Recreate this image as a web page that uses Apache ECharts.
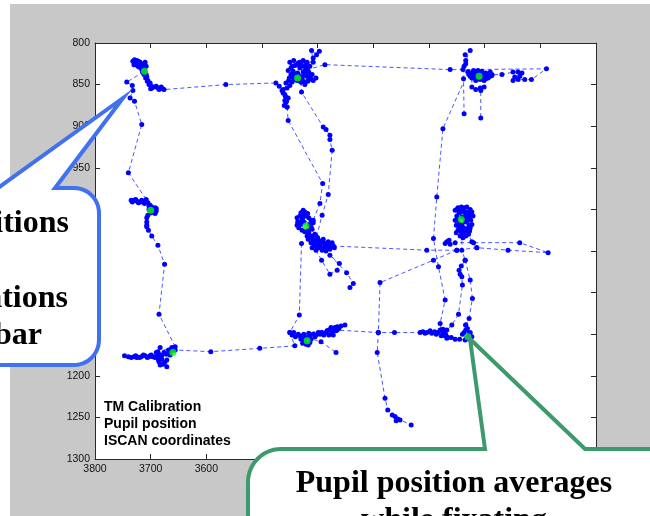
<!DOCTYPE html>
<html>
<head>
<meta charset="utf-8">
<script src="https://cdn.jsdelivr.net/npm/echarts@6/dist/echarts.min.js"></script>
<style>
  html, body { margin: 0; padding: 0; background: #fff; }
  #chart { width: 650px; height: 516px; }
</style>
</head>
<body>
<div id="chart"></div>
<script>
// Axis ranges (ISCAN pupil coordinates); both axes run reversed
const X_MIN = 2900, X_MAX = 3800, X_STEP = 100;
const Y_MIN = 800, Y_MAX = 1300, Y_STEP = 50;

// Raw pupil samples, one array pair per continuous stretch of the scan path
const leftColumnX = [3728,3725,3719,3730,3723,3717,3714,3708,3710,3721,3726,3714,
  3743,3733,3732,3737,3729,3716,3740,3708,
  3735,3730,3725,3719,3714,3708,3705,3701,3698,3692,3690,3696,3701,3705,3707,3707,3707,3707,3704,3698,3687,3675,3685,3656,
  3658,3665,3672,3680,3687,3683,3687,3689,3696,3703,3710,3717,3725,3730,3747,3725,3701,3687,3685,3683,3678,3671,3671,3665,3656,3592,3504,3441,
  3450,3443,3435,3432,3426,3423,3417,3414,3419,3414,3408,3403,3396,3392,3385,3380,3376,3371,3367,3372,3380,3365,3351,3365,3291,3262,3216,3211,3204,3195,3184,
  3180,3175,3171,3166,3178,3168,3153,3135,3132,3126,3123,3126,3134,3134];
const leftColumnY = [823,821,823,826,828,827,830,828,823,824,826,835,
  847,851,857,866,870,898,956,988,
  989,989,990,991,991,991,992,995,997,998,1002,1003,1002,1007,1010,1015,1019,1021,1025,1032,1043,1066,1126,1165,
  1169,1171,1174,1176,1174,1166,1171,1176,1177,1177,1176,1177,1178,1177,1176,1177,1176,1178,1183,1187,1186,1189,1181,1175,1169,1171,1167,1164,
  1148,1148,1150,1152,1154,1159,1163,1160,1154,1151,1150,1151,1150,1148,1148,1145,1142,1144,1146,1151,1151,1141,1139,1145,1148,1148,1148,1147,1148,1149,1148,
  1145,1148,1152,1154,1152,1155,1156,1157,1154,1152,1153,1148,1145,1139];

const bmTailX = [3419,3394,3367];
const bmTailY = [1154,1159,1172];

const topRowX = [3714,3710,3708,3707,3705,3701,3699,3698,3690,3687,3681,3676,3565,
  3475,3469,3464,3459,3453,3457,3460,3455,3459,3462,3455,3450,3446,3451,3448,3453,3446,3450,3443,3437,
  3432,3426,3435,3443,3437,3430,3423,3417,3414,3408,3403,3410,3416,3421,3425,3432,3426,3419,3414,3408,
  3411,3402,3397,3408,3423,3387,
  3162,3139,2989,
  3016,3028,3040,3049,3046,3037,3033,3040,3049,3069,3087,3090,3098,3105,3112,3117,3123,3130,3126,3119,
  3110,3103,3096,3087,3094,3101,3108,3116,3123,
  3123,3116,3108,3101,3107,3107];
const topRowY = [835,834,838,841,845,848,852,854,852,854,853,856,850,
  848,852,857,862,866,871,875,877,869,860,854,851,847,842,838,833,828,823,821,826,
  830,835,838,842,845,847,850,845,842,845,842,838,835,833,828,823,821,823,828,823,
  809,814,810,818,833,826,
  832,832,831,
  844,844,844,845,841,840,836,835,835,838,838,835,836,834,833,835,838,835,840,839,
  840,839,840,839,842,845,844,845,842,
  853,856,854,853,857,890];

const trSpurX = [3134,3135,3126,3134,3137,3138,3137];
const trSpurY = [825,814,809,821,828,843,885];

const rightDropX = [3130,3175,3186,3192,3183,3171,3180,3178];
const rightDropY = [835,903,985,1035,1069,1109,1137,1145];

const tmToMmAX = [3430,3429,3390,3385,3378,3378,3374,3381,3392,3402];
const tmToMmAY = [847,859,901,904,911,916,929,982,1007,1033];

const tmToMmBX = [3455,3453,3391,3396,3408];
const tmToMmBY = [877,893,969,993,1013];

const mmClusterX = [3426,3432,3437,3426,3421,3416,3412,3408,3412,3417,3423,3428,3434,3437,3434,3428,3425,
  3416,3410,3419,3414,3408,3403,3396,3389,3381,3376,3372,3378,3385,3392,3399,3407,3412,3403,3396,3387];
const mmClusterY = [1001,1008,1010,1006,1008,1010,1013,1016,1021,1025,1027,1025,1022,1019,1015,1013,1015,
  1028,1032,1032,1034,1037,1037,1038,1040,1039,1042,1044,1048,1050,1049,1046,1044,1040,1042,1044,1045];

const mmTailX = [3403,3393,3378,3365,3361,3378,3348,3336,3342];
const mmTailY = [1049,1061,1078,1073,1065,1055,1076,1089,1094];

const mmDropX = [3429,3433,3450];
const mmDropY = [1041,1127,1148];

const midRowX = [3372,3204,3150,3114,3058,2986,3037,3120,3153,3162,3168,3171,3164];
const midRowY = [1044,1049,1049,1046,1049,1052,1040,1040,1040,1042,1039,1041,1037];

const mrClusterX = [3153,3148,3142,3137,3132,3126,3123,3121,3125,3123,3126,3132,3137,3142,3146,3151,3153,3150,3146,3141,
  3134,3130,3135,3141,3148,3151,3144,3139,3134,3129,3123,3114];
const mrClusterY = [1001,998,997,998,997,1000,1003,1008,1013,1018,1022,1026,1028,1026,1022,1019,1013,1008,1004,1003,
  1006,1010,1015,1019,1025,1028,1032,1034,1032,1030,1039,1046];

const mrDropCX = [3141,3141,3135,3142,3146,3144,3141,3140,3147,3159,3168];
const mrDropCY = [1029,1049,1061,1068,1073,1078,1081,1091,1126,1139,1145];

const mrDropDX = [3135,3126,3122,3128,3134,3130];
const mrDropDY = [1061,1085,1107,1131,1139,1153];

const centerDropX = [3150,3192,3288,3291,3293,3279,3274,3266,3261,3256,3259,3252,3232];
const centerDropY = [1049,1061,1088,1148,1172,1227,1241,1247,1249,1252,1254,1253,1259];

// Dense samples recorded while the eye rested on each target
const tlDwellX = [3732,3729,3727,3722,3718,3715,3712,3711,3716,3720,3724,3712,3712,3709,3706,3703,3700,3694,3685,3679];
const tlDwellY = [822,820,824,822,825,827,825,830,832,829,826,836,838,842,846,850,855,853,856,855];

const tmDwellX = [3448,3444,3440,3436,3432,3428,3424,3420,3416,3412,3418,3426,3433,3440,3446,3441,3435,3430,3421,3418,3452,3457,3462,3458,3456];
const tmDwellY = [830,834,838,836,840,842,838,840,838,843,846,846,845,844,840,827,824,826,825,830,845,848,856,864,870];

const trDwellX = [3125,3120,3115,3110,3106,3100,3094,3090,3098,3105,3112,3118,3122,3128];
const trDwellY = [836,833,838,836,838,840,838,840,843,842,843,842,840,838];

const mlDwellX = [3733,3727,3722,3716,3711,3703,3696,3694,3699,3703,3692,3690];
const mlDwellY = [991,988,992,989,993,996,999,1002,1004,1000,1005,999];

const blDwellX = [3740,3735,3727,3720,3713,3706,3699,3692,3685,3676,3668,3662,3690,3686,3680,3675];
const blDwellY = [1177,1178,1176,1178,1175,1178,1175,1178,1174,1172,1169,1166,1172,1181,1180,1184];

const bmDwellX = [3446,3440,3430,3427,3421,3412,3405,3399,3389,3383,3374,3369,3362,3358,3425,3416];
const bmDwellY = [1151,1153,1156,1161,1162,1156,1153,1148,1151,1146,1148,1142,1143,1140,1150,1149];

const brDwellX = [3190,3198,3207,3187,3175,3170,3160,3145,3140,3128,3131,3137,3127];
const brDwellY = [1147,1146,1149,1150,1144,1150,1154,1156,1150,1150,1143,1148,1156];

const mmDwellX = [3430,3423,3418,3436,3430,3427,3415,3410,3405,3400,3395,3390,3384,3380,3374,3370,3390,3398,3405,3410,3417];
const mmDwellY = [1004,1003,1005,1015,1018,1010,1018,1024,1030,1034,1041,1036,1043,1046,1040,1046,1046,1043,1040,1046,1036];

const mrDwellX = [3150,3144,3137,3130,3127,3132,3128,3131,3138,3145,3149,3141,3136,3127,3144];
const mrDwellY = [1000,1001,1002,1003,1008,1014,1019,1023,1022,1017,1013,1009,1010,1026,1025];

// Mean pupil position for each of the nine calibration targets
const fixX = [3711,3436,3110,3700,3421,3142,3660,3419,3130];
const fixY = [834,842,840,1001,1020,1012,1172,1158,1153];

const chartTitle = ['TM Calibration', 'Pupil position', 'ISCAN coordinates'];
const leftNote = ['Pupil positions', 'during fixations', 'on bar'];
const rightNote = ['Pupil position averages', 'while fixating'];

const paths = [
  [leftColumnX, leftColumnY], [bmTailX, bmTailY], [topRowX, topRowY], [trSpurX, trSpurY],
  [rightDropX, rightDropY], [tmToMmAX, tmToMmAY], [tmToMmBX, tmToMmBY], [mmClusterX, mmClusterY],
  [mmTailX, mmTailY], [mmDropX, mmDropY], [midRowX, midRowY], [mrClusterX, mrClusterY],
  [mrDropCX, mrDropCY], [mrDropDX, mrDropDY], [centerDropX, centerDropY],
  [tlDwellX, tlDwellY], [tmDwellX, tmDwellY], [trDwellX, trDwellY], [mlDwellX, mlDwellY],
  [blDwellX, blDwellY], [bmDwellX, bmDwellY], [brDwellX, brDwellY], [mmDwellX, mmDwellY],
  [mrDwellX, mrDwellY]
];

function traceSeries(xs, ys) {
  return {
    type: 'line',
    data: xs.map((x, i) => [x, ys[i]]),
    symbol: 'circle',
    symbolSize: 5,
    showSymbol: true,
    showAllSymbol: true,
    itemStyle: { color: '#0000ff', borderWidth: 0 },
    lineStyle: { color: '#1a2cff', width: 1, type: [4, 3], opacity: 0.8 },
    emphasis: { disabled: true },
    silent: true,
    animation: false,
    z: 2
  };
}

const series = paths.map(p => traceSeries(p[0], p[1]));
series.push({
  type: 'scatter',
  data: fixX.map((x, i) => [x, fixY[i]]),
  symbol: 'circle',
  symbolSize: 7,
  itemStyle: { color: '#00ff00', borderWidth: 0 },
  silent: true,
  animation: false,
  z: 4
});

// Rounded corner helper for the callout outlines
function arc(cx, cy, r, a0, a1, n) {
  const pts = [];
  for (let i = 0; i <= n; i++) {
    const a = (a0 + (a1 - a0) * i / n) * Math.PI / 180;
    pts.push([cx + r * Math.cos(a), cy + r * Math.sin(a)]);
  }
  return pts;
}

const blueCallout = [[-60, 188], [-2, 188], [123, 98], [55, 188]]
  .concat(arc(74, 213, 25, -90, 0, 12))
  .concat(arc(74, 340, 25, 0, 90, 12))
  .concat([[-60, 365]]);

const greenCallout = arc(281, 482, 33, 180, 270, 14)
  .concat([[485, 449], [470, 339], [585, 449], [720, 449], [720, 560], [248, 560]]);

const axisCommon = {
  axisLine: { show: true, lineStyle: { color: '#2a2a2a', width: 1 } },
  axisTick: { show: true, inside: true, length: 5, lineStyle: { color: '#2a2a2a' } },
  splitLine: { show: false }
};
const labelStyle = { fontFamily: 'Liberation Sans', fontSize: 10.5, color: '#111', formatter: v => String(v) };

const chart = echarts.init(document.getElementById('chart'), null, { renderer: 'canvas' });
chart.setOption({
  animation: false,
  backgroundColor: '#c8c8c8',
  grid: { left: 95, top: 43, right: 54, bottom: 57, show: true, backgroundColor: '#fff', borderWidth: 0 },
  xAxis: [
    Object.assign({ type: 'value', position: 'bottom', inverse: true, min: X_MIN, max: X_MAX, interval: X_STEP,
      axisLabel: Object.assign({ margin: 5 }, labelStyle) }, axisCommon),
    Object.assign({ type: 'value', position: 'top', inverse: true, min: X_MIN, max: X_MAX, interval: X_STEP,
      axisLabel: { show: false } }, axisCommon)
  ],
  yAxis: [
    Object.assign({ type: 'value', position: 'left', inverse: true, min: Y_MIN, max: Y_MAX, interval: Y_STEP,
      axisLabel: Object.assign({ margin: 5 }, labelStyle) }, axisCommon),
    Object.assign({ type: 'value', position: 'right', inverse: true, min: Y_MIN, max: Y_MAX, interval: Y_STEP,
      axisLabel: { show: false } }, axisCommon)
  ],
  series: series,
  graphic: [
    { type: 'rect', shape: { x: 0, y: 0, width: 10, height: 516 }, style: { fill: '#fff' }, z: 1, silent: true },
    { type: 'rect', shape: { x: 0, y: 0, width: 650, height: 4 }, style: { fill: '#fff' }, z: 1, silent: true },
    // in-plot caption
    ...chartTitle.map((t, i) => ({
      type: 'text', x: 104, y: 407.5 + i * 16.7, z: 50, silent: true,
      style: { text: t, font: 'bold 14px "Liberation Sans"', fill: '#000',
        textAlign: 'left', align: 'left', textVerticalAlign: 'middle', verticalAlign: 'middle' }
    })),
    // callouts
    { type: 'polygon', shape: { points: blueCallout }, z: 100, silent: true,
      style: { fill: '#fff', stroke: '#4170f0', lineWidth: 4, lineJoin: 'miter' } },
    { type: 'text', x: 69, y: 224, z: 101, silent: true,
      style: { text: leftNote[0], font: 'bold 32px "Liberation Serif"', fill: '#000',
        textAlign: 'right', align: 'right', textVerticalAlign: 'middle', verticalAlign: 'middle' } },
    { type: 'text', x: 68, y: 299, z: 101, silent: true,
      style: { text: leftNote[1], font: 'bold 32px "Liberation Serif"', fill: '#000',
        textAlign: 'right', align: 'right', textVerticalAlign: 'middle', verticalAlign: 'middle' } },
    { type: 'text', x: 42, y: 336, z: 101, silent: true,
      style: { text: leftNote[2], font: 'bold 32px "Liberation Serif"', fill: '#000',
        textAlign: 'right', align: 'right', textVerticalAlign: 'middle', verticalAlign: 'middle' } },
    { type: 'polygon', shape: { points: greenCallout }, z: 100, silent: true,
      style: { fill: '#fff', stroke: '#3c9a6c', lineWidth: 4, lineJoin: 'miter' } },
    { type: 'text', x: 454, y: 484, z: 101, silent: true,
      style: { text: rightNote[0], font: 'bold 32px "Liberation Serif"', fill: '#000',
        textAlign: 'center', align: 'center', textVerticalAlign: 'middle', verticalAlign: 'middle' } },
    { type: 'text', x: 454, y: 521, z: 101, silent: true,
      style: { text: rightNote[1], font: 'bold 32px "Liberation Serif"', fill: '#000',
        textAlign: 'center', align: 'center', textVerticalAlign: 'middle', verticalAlign: 'middle' } }
  ]
});
</script>
</body>
</html>
